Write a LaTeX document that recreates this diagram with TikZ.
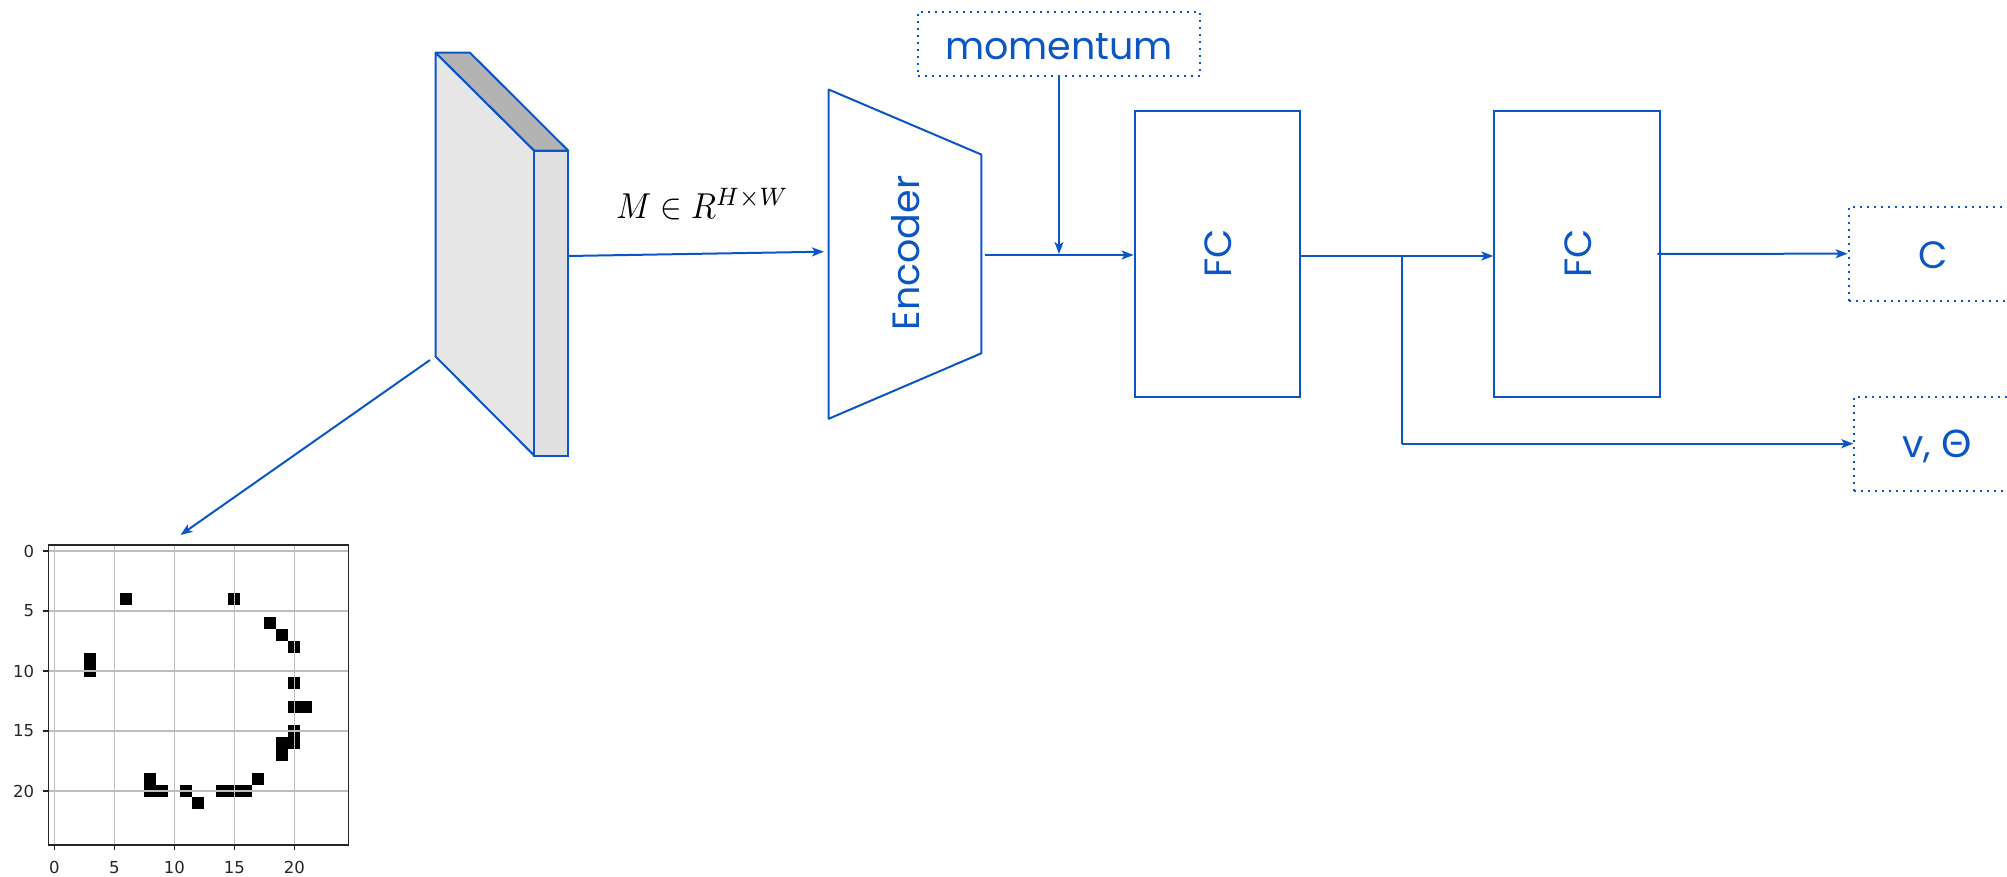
\documentclass[tikz,border=0pt]{standalone}
\usepackage[no-math]{fontspec}
\setmainfont{Poppins}
\newfontfamily\grk{Lato}
\newfontfamily\tickfont{DejaVu Sans}
\usetikzlibrary{arrows.meta}
\definecolor{bl}{RGB}{12,86,196}
\definecolor{faceA}{RGB}{230,230,230}
\definecolor{faceB}{RGB}{179,179,179}
\definecolor{faceC}{RGB}{224,224,224}
\definecolor{gridc}{RGB}{190,190,190}
\definecolor{axc}{RGB}{38,38,38}
\begin{document}
\begin{tikzpicture}[x=1pt,y=-1pt, line width=2pt,
  arr/.style={draw=bl, -{Stealth[length=12pt,width=9pt,inset=3pt]}},
  dotbox/.style={draw=bl, dash pattern=on 2pt off 5pt, rectangle, inner sep=0pt},
  solidbox/.style={draw=bl, rectangle, inner sep=0pt},
  lbl/.style={text=bl, font=\fontsize{38}{40}\selectfont, inner sep=0pt},
  ticklbl/.style={text=axc, font=\tickfont\fontsize{16.5}{18}\selectfont, inner sep=0pt},
]
\useasboundingbox (0,0) rectangle (2007,877);
\clip (0,0) rectangle (2007,877);

% --- 3D slab ---
\filldraw[draw=bl, fill=faceA, line join=round] (435.7,52.7) -- (534.3,150.7) -- (534.3,455.7) -- (435.7,356.7) -- cycle;
\filldraw[draw=bl, fill=faceB, line join=round] (435.7,52.7) -- (470,52.7) -- (568.3,150.7) -- (534.3,150.7) -- cycle;
\filldraw[draw=bl, fill=faceC] (534.3,150.7) rectangle (568.3,455.7);
\coordinate (slabR) at (568.3,256);
\coordinate (slabBL) at (430,360);

% --- label M ---
\node[anchor=base west, inner sep=0pt, xscale=3.25, yscale=3.6] (mlab) at (613,218.3) {$M\in R^{H\times W}$};

% --- encoder ---
\draw[bl, line join=round] (828.6,89.5) -- (981.4,154.6) -- (981.4,353.3) -- (828.6,418.8) -- cycle;
\node[lbl, rotate=90] (enc) at (905.4,253) {Encoder};
\coordinate (encL) at (824,251.7);
\coordinate (encR) at (985,255);

% --- momentum ---
\node[dotbox, minimum width=282, minimum height=64] (mom) at (1059,44) {};
\node[lbl] (momt) at (1059,46.7) {momentum};
\coordinate (join) at (1059,254);

% --- FC boxes ---
\node[solidbox, minimum width=165.4, minimum height=285.7] (fc1) at (1217.3,253.85) {};
\node[lbl, rotate=90] (fc1t) at (1217.9,253) {FC};
\node[solidbox, minimum width=165.9, minimum height=285.7] (fc2) at (1577.35,253.85) {};
\node[lbl, rotate=90] (fc2t) at (1578,253) {FC};
\coordinate (br) at (1401.6,256);

% --- outputs ---
\node[dotbox, minimum width=250, minimum height=94] (cbox) at (1973.6,253.7) {};
\node[lbl] (ct) at (1933.1,255) {C};
\node[dotbox, minimum width=250, minimum height=94] (vbox) at (1979.3,443.7) {};
\node[lbl] (vt) at (1936.7,446.7) {v, {\grk Θ}};

% --- connectors ---
\draw[arr] (slabR) -- (encL);
\draw[arr] (mom.south) -- (join);
\draw[arr] (encR) -- (encR -| fc1.west);
\draw[arr] (br -| fc1.east) -- (br -| fc2.west);
\draw[bl] (br) -- (br |- vbox.west);
\draw[arr] (br |- vbox.west) -- (vbox.west);
\draw[arr] ([xshift=-4pt]fc2.east) -- (cbox.west);
\coordinate (plotTop) at (180.5,535);
\draw[arr] (slabBL) -- (plotTop);

% --- plot ---
\begin{scope}[shift={(54.3,551)}, x=12pt, y=-12pt]
  \foreach \c/\r in {6/4,15/4,3/9,3/10,18/6,19/7,20/8,20/11,20/13,21/13,20/15,20/16,19/16,19/17,17/19,8/19,8/20,9/20,11/20,12/21,14/20,15/20,16/20}
    \fill[black] (\c-0.5,\r-0.5) rectangle (\c+0.5,\r+0.5);
  \foreach \v in {0,5,10,15,20} {
    \draw[gridc, line width=1.4pt] (\v,-0.5) -- (\v,24.5);
    \draw[gridc, line width=1.4pt] (-0.5,\v) -- (24.5,\v);
    \draw[axc, line width=1.3pt] (\v,24.5) -- (\v,24.92);
    \draw[axc, line width=1.3pt] (-0.5,\v) -- (-0.92,\v);
    \node[ticklbl] at (\v,26.4) {\v};
    \node[ticklbl, anchor=east] at (-1.6,\v) {\v};
  }
  \draw[axc, line width=1.5pt] (-0.5,-0.5) rectangle (24.5,24.5);
\end{scope}
\end{tikzpicture}
\end{document}
